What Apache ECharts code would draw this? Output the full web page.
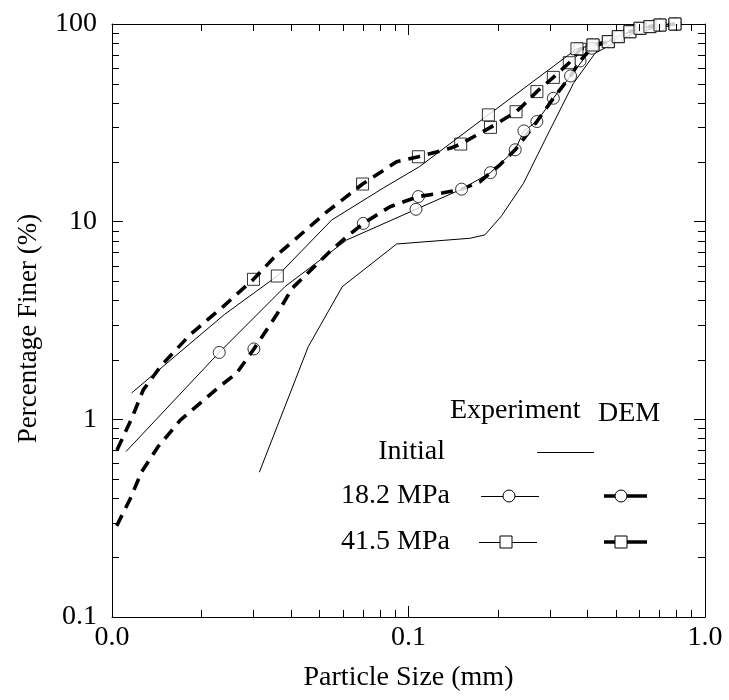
<!DOCTYPE html>
<html>
<head>
<meta charset="utf-8">
<script src="https://cdn.jsdelivr.net/npm/echarts@6/dist/echarts.min.js"></script>
<style>
  html, body { margin: 0; padding: 0; background: #fff; }
  #chart { width: 729px; height: 700px; }
</style>
</head>
<body>
<div id="chart"></div>
<script>
// Particle size distribution: particle size (mm) against percentage finer (%)

// Initial grading (experiment)
const initialSize = [0.0314, 0.0459, 0.0598, 0.0912, 0.161, 0.181, 0.206, 0.244, 0.300, 0.360, 0.426, 0.491, 0.573, 0.68, 0.81];
const initialPct  = [0.54, 2.33, 4.69, 7.71, 8.24, 8.57, 10.7, 15.6, 29.1, 50.1, 71.2, 79.8, 89.7, 95.5, 99];

// 18.2 MPa, experiment
const exp182Size = [0.01115, 0.0230, 0.0383, 0.0619, 0.106, 0.151, 0.189, 0.229, 0.245, 0.271, 0.308, 0.352, 0.369, 0.415, 0.472, 0.51, 0.558, 0.604, 0.652, 0.705, 0.792];
const exp182Pct  = [0.687, 2.18, 4.69, 8.08, 11.55, 14.6, 17.7, 23.1, 28.8, 32.1, 42.1, 54.6, 59.7, 75.4, 81.4, 86.3, 91.4, 95.1, 97, 98.8, 100];
const exp182Marks = [1, 4, 5, 8, 11, 13, 15, 17, 19];

// 18.2 MPa, DEM
const dem182Size = [0.01037, 0.0115, 0.0126, 0.0143, 0.017, 0.0231, 0.0263, 0.0301, 0.036, 0.0405, 0.054, 0.0619, 0.0704, 0.0866, 0.108, 0.131, 0.151, 0.174, 0.189, 0.2035, 0.229, 0.271, 0.308, 0.352, 0.379, 0.419, 0.472, 0.51, 0.558, 0.604, 0.652, 0.705, 0.792];
const dem182Pct  = [0.289, 0.394, 0.544, 0.727, 0.99, 1.47, 1.71, 2.27, 3.4, 4.6, 7.0, 8.4, 9.8, 11.9, 13.4, 14.0, 14.6, 15.9, 17.7, 19.4, 23.1, 32.1, 42.1, 54.6, 65, 77, 81.4, 86.3, 91.4, 95.1, 97, 98.8, 100];
const dem182Marks = [7, 12, 14, 18, 20, 21, 22, 24, 26, 28, 30, 32];

// 41.5 MPa, experiment
const exp415Size = [0.01165, 0.024, 0.0361, 0.0551, 0.0822, 0.109, 0.186, 0.37, 0.419, 0.472, 0.51, 0.558, 0.604, 0.652, 0.705, 0.792];
const exp415Pct  = [1.36, 3.4, 5.31, 10.2, 14.8, 19.0, 34.7, 75, 78.3, 81.4, 86.3, 91.4, 95.1, 97, 98.8, 100];
const exp415Marks = [2, 6, 7, 8, 9, 10, 11, 12, 13, 14, 15];

// 41.5 MPa, DEM
const dem415Size = [0.0104, 0.01165, 0.01275, 0.0147, 0.0183, 0.0237, 0.030, 0.035, 0.053, 0.070, 0.0912, 0.108, 0.138, 0.150, 0.174, 0.189, 0.2035, 0.2305, 0.244, 0.271, 0.308, 0.3485, 0.379, 0.419, 0.472, 0.51, 0.558, 0.604, 0.652, 0.705, 0.792];
const dem415Pct  = [0.70, 1.01, 1.41, 1.88, 2.67, 3.72, 5.11, 6.53, 11.2, 15.5, 20.1, 21.3, 23.5, 24.7, 28.0, 30.0, 32.1, 36.0, 38.9, 45.5, 53.7, 63.7, 74.5, 78.3, 81.4, 86.3, 91.4, 95.1, 97, 98.8, 100];
const dem415Marks = [6, 9, 11, 13, 15, 17, 19, 20, 21, 22, 23, 24, 25, 26, 27, 28, 29, 30];

// Axis ranges and minor tick values (log decades)
const xRange = [0.01, 1];
const yRange = [0.1, 100];
const xMinorTicks = [0.02, 0.03, 0.04, 0.05, 0.06, 0.07, 0.08, 0.09, 0.2, 0.3, 0.4, 0.5, 0.6, 0.7, 0.8, 0.9];
const yMinorTicks = [0.2, 0.3, 0.4, 0.5, 0.6, 0.7, 0.8, 0.9, 2, 3, 4, 5, 6, 7, 8, 9, 20, 30, 40, 50, 60, 70, 80, 90];

const FONT = '"Liberation Serif", "Times New Roman", serif';
const FS = 28;

const pairs = (xs, ys) => xs.map((x, i) => [x, ys[i]]);
const pick = (xs, ys, idx) => idx.map(i => [xs[i], ys[i]]);

const thinLine = { color: '#000', width: 1 };
const demLine = { color: '#000', width: 3.6, type: [12, 8], cap: 'butt' };
const hollow = { color: '#fff', borderColor: '#000', borderWidth: 1 };

function lineSeries(name, xs, ys, style, z) {
  return { name, type: 'line', data: pairs(xs, ys), symbol: 'none', lineStyle: style, z, silent: true };
}
function markSeries(name, xs, ys, idx, symbol, size, z) {
  return { name, type: 'scatter', data: pick(xs, ys, idx), symbol, symbolSize: size, itemStyle: hollow, z, silent: true };
}

const crisp = v => Math.round(v) + 0.5;
const tickStyle = { stroke: '#000', lineWidth: 1 };

const chart = echarts.init(document.getElementById('chart'), null, { renderer: 'canvas' });

const axisCommon = {
  type: 'log', logBase: 10,
  axisLine: { show: true, lineStyle: { color: '#000', width: 1 } },
  axisTick: { show: true, inside: true, length: 11, lineStyle: { color: '#000', width: 1 } },
  splitLine: { show: false },
  minorTick: { show: false }
};

// Legend layout (experiment / DEM columns)
const lg = {
  head: 411, rowInit: 452, row182: 496, row415: 542,
  labelRight: 450, expL: 481, expR: 539, expMark: 509,
  demL: 604, demR: 647, demMark: 621
};
const legendFont = `${FS}px ${FONT}`;

chart.setOption({
  animation: false,
  backgroundColor: '#fff',
  grid: { left: 112, right: 24, top: 24, bottom: 83, containLabel: false },
  xAxis: [
    Object.assign({}, axisCommon, {
      min: xRange[0], max: xRange[1], position: 'bottom',
      name: 'Particle Size (mm)', nameLocation: 'middle', nameGap: 47,
      nameTextStyle: { fontFamily: FONT, fontSize: FS, color: '#000' },
      axisLabel: { show: true, margin: 7, fontFamily: FONT, fontSize: FS, color: '#000',
        formatter: v => Number(v).toFixed(1) }
    }),
    Object.assign({}, axisCommon, {
      min: xRange[0], max: xRange[1], position: 'top', axisLabel: { show: false }
    })
  ],
  yAxis: [
    Object.assign({}, axisCommon, {
      min: yRange[0], max: yRange[1], position: 'left',
      name: 'Percentage Finer (%)', nameLocation: 'middle', nameGap: 70, nameRotate: 90,
      nameTextStyle: { fontFamily: FONT, fontSize: 27, color: '#000', padding: [0, 16, 0, 0] },
      axisLabel: { show: true, margin: 15, fontFamily: FONT, fontSize: FS, color: '#000',
        formatter: v => (v < 1 ? Number(v).toFixed(1) : String(Math.round(v))) }
    }),
    Object.assign({}, axisCommon, {
      min: yRange[0], max: yRange[1], position: 'right', axisLabel: { show: false }
    })
  ],
  series: [
    markSeries('DEM 18.2 MPa markers', dem182Size, dem182Pct, dem182Marks, 'circle', 12, 2),
    markSeries('DEM 41.5 MPa markers', dem415Size, dem415Pct, dem415Marks, 'rect', 12, 2),
    lineSeries('Initial', initialSize, initialPct, thinLine, 3),
    lineSeries('18.2 MPa', exp182Size, exp182Pct, thinLine, 3),
    lineSeries('41.5 MPa', exp415Size, exp415Pct, thinLine, 3),
    lineSeries('DEM 18.2 MPa', dem182Size, dem182Pct, demLine, 3),
    lineSeries('DEM 41.5 MPa', dem415Size, dem415Pct, demLine, 3),
    markSeries('18.2 MPa markers', exp182Size, exp182Pct, exp182Marks, 'circle', 12, 4),
    markSeries('41.5 MPa markers', exp415Size, exp415Pct, exp415Marks, 'rect', 12, 4),
    {
      // minor ticks on the bottom and top frame
      type: 'custom', silent: true, clip: false, z: 6,
      data: xMinorTicks.map(v => [v, yRange[0]]),
      renderItem: (params, api) => {
        const b = api.coord([api.value(0), yRange[0]]);
        const t = api.coord([api.value(0), yRange[1]]);
        const x = crisp(b[0]);
        return { type: 'group', children: [
          { type: 'line', shape: { x1: x, y1: b[1], x2: x, y2: b[1] - 7 }, style: tickStyle },
          { type: 'line', shape: { x1: x, y1: t[1], x2: x, y2: t[1] + 7 }, style: tickStyle }
        ] };
      }
    },
    {
      // minor ticks on the left and right frame
      type: 'custom', silent: true, clip: false, z: 6,
      data: yMinorTicks.map(v => [xRange[0], v]),
      renderItem: (params, api) => {
        const l = api.coord([xRange[0], api.value(1)]);
        const r = api.coord([xRange[1], api.value(1)]);
        const y = crisp(l[1]);
        return { type: 'group', children: [
          { type: 'line', shape: { x1: l[0], y1: y, x2: l[0] + 7, y2: y }, style: tickStyle },
          { type: 'line', shape: { x1: r[0], y1: y, x2: r[0] - 7, y2: y }, style: tickStyle }
        ] };
      }
    }
  ],
  graphic: [
    { type: 'text', x: 450, y: lg.head, style: { text: 'Experiment', font: legendFont, fill: '#000', align: 'left', verticalAlign: 'middle' } },
    { type: 'text', x: 598, y: lg.head + 3, style: { text: 'DEM', font: legendFont, fill: '#000', align: 'left', verticalAlign: 'middle' } },
    { type: 'text', x: 445, y: lg.rowInit, style: { text: 'Initial', font: legendFont, fill: '#000', align: 'right', verticalAlign: 'middle' } },
    { type: 'text', x: lg.labelRight, y: lg.row182, style: { text: '18.2 MPa', font: legendFont, fill: '#000', align: 'right', verticalAlign: 'middle' } },
    { type: 'text', x: lg.labelRight, y: lg.row415, style: { text: '41.5 MPa', font: legendFont, fill: '#000', align: 'right', verticalAlign: 'middle' } },
    { type: 'line', shape: { x1: 537, y1: lg.rowInit + 0.5, x2: 594, y2: lg.rowInit + 0.5 }, style: { stroke: '#000', lineWidth: 1 } },
    { type: 'line', shape: { x1: lg.expL, y1: lg.row182 + 0.5, x2: lg.expR, y2: lg.row182 + 0.5 }, style: { stroke: '#000', lineWidth: 1 } },
    { type: 'circle', shape: { cx: lg.expMark, cy: lg.row182, r: 6 }, style: { fill: '#fff', stroke: '#000', lineWidth: 1 } },
    { type: 'line', shape: { x1: lg.expL - 2, y1: lg.row415 + 0.5, x2: lg.expR - 2, y2: lg.row415 + 0.5 }, style: { stroke: '#000', lineWidth: 1 } },
    { type: 'rect', shape: { x: lg.expMark - 3 - 6, y: lg.row415 - 6, width: 12, height: 12 }, style: { fill: '#fff', stroke: '#000', lineWidth: 1 } },
    { type: 'line', shape: { x1: lg.demL, y1: lg.row182, x2: lg.demR, y2: lg.row182 }, style: { stroke: '#000', lineWidth: 3.6 } },
    { type: 'circle', shape: { cx: lg.demMark, cy: lg.row182, r: 6 }, style: { fill: '#fff', stroke: '#000', lineWidth: 1 } },
    { type: 'line', shape: { x1: lg.demL, y1: lg.row415, x2: lg.demR, y2: lg.row415 }, style: { stroke: '#000', lineWidth: 3.6 } },
    { type: 'rect', shape: { x: lg.demMark - 6, y: lg.row415 - 6, width: 12, height: 12 }, style: { fill: '#fff', stroke: '#000', lineWidth: 1 } }
  ]
});
</script>
</body>
</html>
